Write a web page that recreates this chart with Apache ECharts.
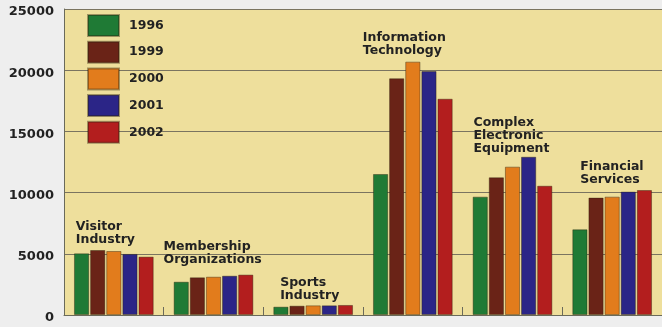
<!DOCTYPE html>
<html>
<head>
<meta charset="utf-8">
<script src="https://cdn.jsdelivr.net/npm/echarts@6/dist/echarts.min.js"></script>
<style>
  html, body { margin: 0; padding: 0; background: #eeeeee; }
  #chart { width: 662px; height: 327px; }
</style>
</head>
<body>
<div id="chart"></div>
<script>
// Industry clusters, employment by year
const categories = [
  'Visitor\nIndustry',
  'Membership\nOrganizations',
  'Sports\nIndustry',
  'Information\nTechnology',
  'Complex\nElectronic\nEquipment',
  'Financial\nServices'
];
const years = ['1996', '1999', '2000', '2001', '2002'];
const v1996 = [5040, 2720, 680, 11520, 9670, 7000];
const v1999 = [5310, 3080, 760, 19340, 11250, 9590];
const v2000 = [5230, 3130, 790, 20700, 12120, 9670];
const v2001 = [4990, 3210, 790, 19930, 12930, 10080];
const v2002 = [4770, 3300, 820, 17670, 10560, 10210];
const yTicks = [0, 5000, 10000, 15000, 20000, 25000];

const seriesValues = [v1996, v1999, v2000, v2001, v2002];
const colors = ['#1f7a35', '#6a2317', '#e27c1c', '#2b2587', '#b31e1e'];

// where each group caption sits relative to the top of its tallest bar
const captionShift = [[-38, -4], [-50, -8], [-33, -3], [-50, -4], [-39, -1], [-32, -4]];

const font = 'DejaVu Sans';

const chart = echarts.init(document.getElementById('chart'), null, { renderer: 'canvas' });

const barSeries = years.map((y, k) => ({
  name: y,
  type: 'bar',
  data: seriesValues[k],
  barGap: '6%',
  barCategoryGap: '20%',
  itemStyle: {
    color: colors[k],
    borderColor: 'rgba(40,30,10,0.4)',
    borderWidth: 1
  },
  emphasis: { disabled: true }
}));

const captionSeries = {
  type: 'scatter',
  symbolSize: 0,
  silent: true,
  z: 5,
  itemStyle: { opacity: 1 },
  data: categories.map((c, i) => ({
    value: [i, Math.max(...seriesValues.map(s => s[i]))],
    label: { position: captionShift[i] }
  })),
  label: {
    show: true,
    align: 'left',
    verticalAlign: 'bottom',
    formatter: p => categories[p.dataIndex],
    fontFamily: font,
    fontWeight: 'bold',
    fontSize: 12.5,
    lineHeight: 13,
    color: '#222222'
  }
};

chart.setOption({
  animation: false,
  backgroundColor: '#eeeeee',
  grid: {
    left: 64,
    top: 9,
    width: 603,
    bottom: 12,
    show: true,
    backgroundColor: '#eedf9c',
    borderWidth: 0
  },
  legend: {
    data: years,
    orient: 'vertical',
    left: 87,
    top: 14,
    itemWidth: 31,
    itemHeight: 21,
    itemGap: 3.7,
    padding: 0,
    icon: 'rect',
    textStyle: {
      fontFamily: font,
      fontWeight: 'bold',
      fontSize: 12.5,
      color: '#222',
      padding: [0, 0, 0, 5]
    },
    selectedMode: false
  },
  xAxis: {
    type: 'category',
    data: categories,
    axisLine: { show: true, lineStyle: { color: '#6a6a5a', width: 1 } },
    axisTick: { show: true, inside: true, length: 8, lineStyle: { color: '#6a6a5a' } },
    axisLabel: { show: false },
    splitLine: { show: false }
  },
  yAxis: {
    type: 'value',
    min: yTicks[0],
    max: yTicks[yTicks.length - 1],
    interval: yTicks[1] - yTicks[0],
    axisLine: { show: true, lineStyle: { color: '#6a6a5a', width: 1 } },
    axisTick: { show: false },
    axisLabel: {
      margin: 10,
      formatter: v => String(v),
      fontFamily: font,
      fontWeight: 'bold',
      fontSize: 13,
      color: '#222',
      verticalAlign: 'top',
      lineHeight: 6
    },
    splitLine: { show: true, lineStyle: { color: '#7a7460', width: 1 } }
  },
  series: [...barSeries, captionSeries]
});
</script>
</body>
</html>
